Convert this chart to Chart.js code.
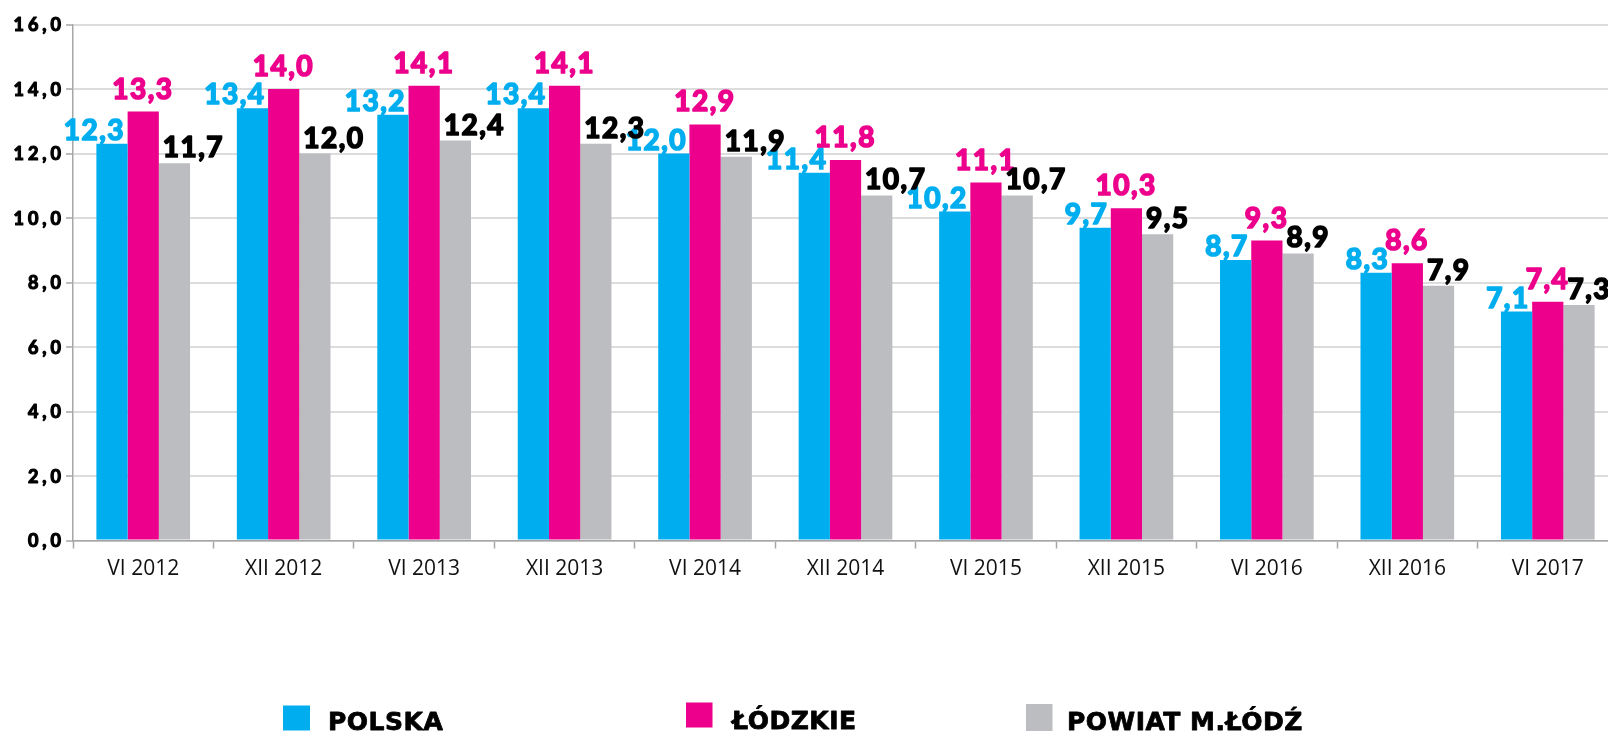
<!DOCTYPE html>
<html><head><meta charset="utf-8">
<script src="https://cdn.jsdelivr.net/npm/chart.js@4/dist/chart.umd.min.js"></script>
<style>html,body{margin:0;padding:0;overflow:hidden;background:#fff;width:1608px;height:732px}canvas{display:block}</style>
</head><body>
<canvas id="c" width="1630" height="732" style="width:1630px;height:732px"></canvas>
<script>
const categories = ['VI 2012','XII 2012','VI 2013','XII 2013','VI 2014','XII 2014','VI 2015','XII 2015','VI 2016','XII 2016','VI 2017'];
const polska  = [12.3,13.4,13.2,13.4,12.0,11.4,10.2,9.7,8.7,8.3,7.1];
const lodzkie = [13.3,14.0,14.1,14.1,12.9,11.8,11.1,10.3,9.3,8.6,7.4];
const powiat  = [11.7,12.0,12.4,12.3,11.9,10.7,10.7,9.5,8.9,7.9,7.3];
const seriesNames = ['POLSKA','ŁÓDZKIE','POWIAT M.ŁÓDŹ'];
const yTicks = [0,2,4,6,8,10,12,14,16];

const colors = ['#00AEEF','#EC008C','#BCBDC0'];
const labelColors = ['#00AEEF','#EC008C','#000000'];
const fmt = v => v.toFixed(1).replace('.', ',');

function heavyText(ctx, txt, x, y, color, sw) {
  ctx.fillStyle = color;
  ctx.strokeStyle = color;
  ctx.lineWidth = sw;
  ctx.lineJoin = 'round';
  ctx.fillText(txt, x, y);
  ctx.strokeText(txt, x, y);
}

const drawPlugin = {
  id: 'customDraw',
  afterDatasetsDraw(chart) {
    const ctx = chart.ctx;
    ctx.save();
    ctx.font = 'bold 28px Lato';
    ctx.letterSpacing = '1.5px';
    ctx.textBaseline = 'alphabetic';
    ctx.textAlign = 'left';
    chart.data.datasets.forEach((ds, di) => {
      const meta = chart.getDatasetMeta(di);
      meta.data.forEach((bar, i) => {
        const txt = fmt(ds.data[i]);
        const w = ctx.measureText(txt).width - 1.5;
        const half = bar.width / 2;
        let x;
        if (di === 0) x = bar.x + half - 4 - w;
        else if (di === 1) x = bar.x - w / 2 - 1;
        else x = bar.x - half + 4;
        const gap = [4, 13, 6][di];
        heavyText(ctx, txt, x, bar.y - gap, labelColors[di], 1.7);
      });
    });
    ctx.restore();
  },
  afterDraw(chart) {
    const ctx = chart.ctx;
    const ys = chart.scales.y;
    ctx.save();
    ctx.font = 'bold 18px Lato';
    ctx.letterSpacing = '4px';
    ctx.textAlign = 'right';
    ctx.textBaseline = 'alphabetic';
    yTicks.forEach(v => {
      const y = ys.getPixelForValue(v);
      heavyText(ctx, fmt(v), 61 + 4, y + 6.5, '#000', 1.2);
    });
    const items = [
      {box: [283, 705.5, 27, 25], tx: 328, ty: 730},
      {box: [686, 702.5, 26.5, 25], tx: 732, ty: 728.5},
      {box: [1026, 704, 26.5, 27], tx: 1067, ty: 730}
    ];
    ctx.letterSpacing = '0.5px';
    ctx.font = 'bold 25px "DejaVu Sans"';
    ctx.textAlign = 'left';
    items.forEach((it, i) => {
      ctx.fillStyle = colors[i];
      ctx.fillRect(it.box[0], it.box[1], it.box[2], it.box[3]);
      heavyText(ctx, chart.data.datasets[i].label, it.tx, it.ty, '#000', 0.8);
    });
    ctx.restore();
  }
};

new Chart(document.getElementById('c'), {
  type: 'bar',
  data: {
    labels: categories,
    datasets: [
      {label: seriesNames[0], data: polska, backgroundColor: colors[0]},
      {label: seriesNames[1], data: lodzkie, backgroundColor: colors[1]},
      {label: seriesNames[2], data: powiat, backgroundColor: colors[2]}
    ]
  },
  options: {
    responsive: false,
    animation: false,
    devicePixelRatio: 1,
    layout: {padding: {top: 24.5, left: 0, right: 12, bottom: 0}},
    datasets: {bar: {categoryPercentage: 0.667, barPercentage: 1.0, borderWidth: 0}},
    plugins: {legend: {display: false}, tooltip: {enabled: false}},
    scales: {
      x: {
        grid: {display: true, drawOnChartArea: false, offset: true, tickLength: 8, tickColor: '#a6a6a6', tickWidth: 1.5},
        border: {color: '#a6a6a6', width: 1.5},
        ticks: {color: '#111', font: {family: '"Open Sans"', size: 21}, padding: 8, maxRotation: 0, autoSkip: false},
        afterFit(s) { s.height = 732 - 540.5; }
      },
      y: {
        min: 0, max: 16,
        ticks: {stepSize: 2, display: false},
        grid: {color: '#dcdcdc', lineWidth: 2, tickLength: 7, tickColor: '#a6a6a6', tickWidth: 1.5},
        border: {color: '#a6a6a6', width: 1.5},
        afterFit(s) { s.width = 73; }
      }
    }
  },
  plugins: [drawPlugin]
});
</script>
</body></html>
